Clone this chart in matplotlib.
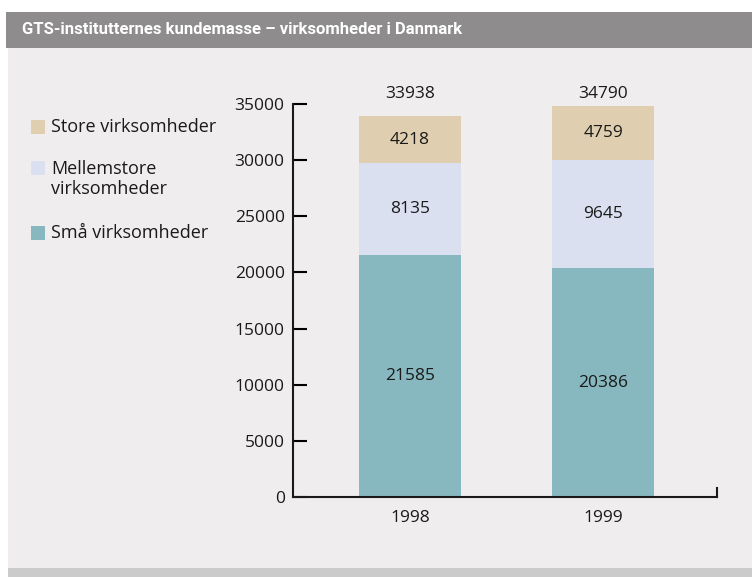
import matplotlib
matplotlib.use("Agg")
import matplotlib.pyplot as plt
from matplotlib.patches import Rectangle
import numpy as np

plt.rcParams['font.family'] = ['Open Sans', 'DejaVu Sans']

title = "GTS-institutternes kundemasse – virksomheder i Danmark"
years = ["1998", "1999"]
series_names = ["Små virksomheder", "Mellemstore\nvirksomheder", "Store virksomheder"]
small = [21585, 20386]
medium = [8135, 9645]
large = [4218, 4759]
colors = ["#88b8bf", "#dae0f0", "#dfcfb0"]
yticks = [0, 5000, 10000, 15000, 20000, 25000, 30000, 35000]

W, H = 752, 577
fig = plt.figure(figsize=(W / 100, H / 100), dpi=100, facecolor="white")

def fx(px):
    return px / W

def fy(py):
    return 1 - py / H

# background bands
for (x0, y0, x1, y1, col) in [(8, 48, W, 568, "#efedee"), (6, 12, W, 48, "#8e8c8d"), (8, 568, W, H, "#cccbcb")]:
    fig.patches.append(Rectangle((fx(x0), fy(y1)), fx(x1) - fx(x0), fy(y0) - fy(y1),
                                 transform=fig.transFigure, facecolor=col, edgecolor="none", zorder=-10))
t = fig.text(fx(22), fy(30), title, color="white", fontsize=13, fontweight="bold",
             family=["Roboto", "DejaVu Sans"], va="center", ha="left")
# fit title width to reference (~376 px), but keep reasonable height
fig.canvas.draw()
w = t.get_window_extent().width
t.set_fontsize(max(12, 13 * 376 / w))

ax = fig.add_axes([fx(293), fy(497), fx(717) - fx(293), fy(104) - fy(497)])
ax.set_zorder(5)
ax.set_facecolor("none")

x = np.arange(len(years))
width = 0.528
bottom = np.zeros(len(years))
for vals, c in zip([small, medium, large], colors):
    ax.bar(x, vals, width, bottom=bottom, color=c, edgecolor="none", zorder=2)
    for xi, v, b in zip(x, vals, bottom):
        ax.text(xi, b + v / 2, str(v), ha="center", va="center", fontsize=12.5, color="#1a1a1a", zorder=3)
    bottom = bottom + np.array(vals)

for xi, tot in zip(x, bottom):
    ax.text(xi, 35850, str(int(tot)), ha="center", va="center", fontsize=12.5, color="#1a1a1a", clip_on=False)

ax.set_xlim(-0.606, 1.59)
ax.set_ylim(0, 35000)
ax.set_yticks(yticks)
ax.set_yticklabels([str(t) for t in yticks], fontsize=12.5, color="#1a1a1a")
ax.set_xticks(x)
ax.set_xticklabels(years, fontsize=12.5, color="#1a1a1a")
ax.tick_params(axis="y", direction="in", length=10, width=1.5, pad=6)
ax.tick_params(axis="x", length=0, pad=9)
ax.spines["top"].set_visible(False)
for s in ["left", "bottom", "right"]:
    ax.spines[s].set_linewidth(1.5)
    ax.spines[s].set_color("#1a1a1a")
ax.spines["right"].set_bounds(0, 800)

# legend (manual)
leg_y = [233, 168, 127]
for name, c, py in zip(series_names, colors, leg_y):
    fig.patches.append(Rectangle((fx(31), fy(py + 7)), fx(14), fy(0) - fy(14),
                                 transform=fig.transFigure, facecolor=c, edgecolor="none"))
    if "\n" in name:
        fig.text(fx(51), fy(py - 8), name, fontsize=13, color="#1a1a1a", va="top", ha="left",
                 linespacing=1.12)
    else:
        fig.text(fx(51), fy(py), name, fontsize=13, color="#1a1a1a", va="center", ha="left")

fig.savefig("out.png", dpi=100, facecolor="white")
